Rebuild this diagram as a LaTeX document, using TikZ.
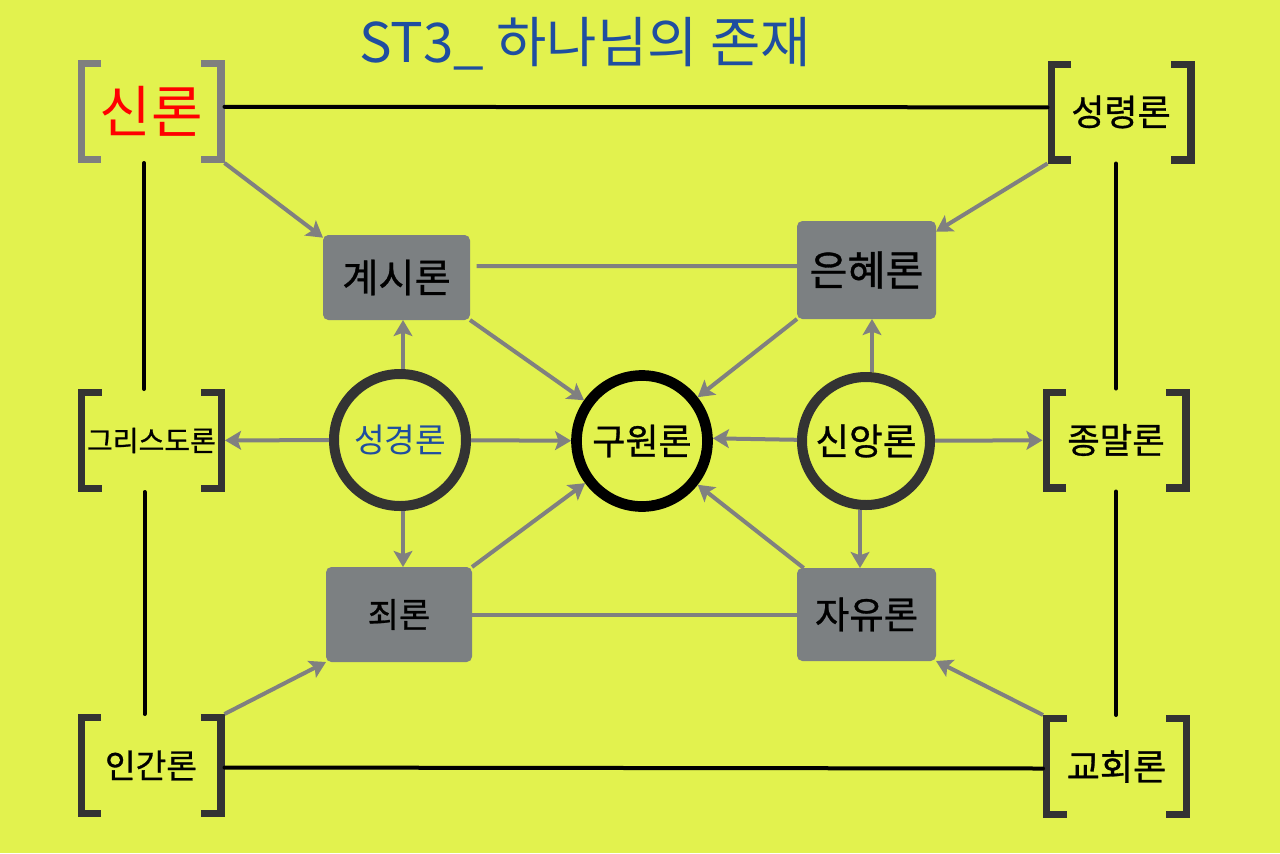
\documentclass[tikz,border=0pt]{standalone}
\usepackage{fontspec}
\setmainfont{Noto Sans CJK KR}
\newfontfamily\medfont{Noto Sans CJK KR}[FakeBold=0.8]
\usetikzlibrary{arrows.meta}
\definecolor{bgc}{RGB}{226,242,78}
\definecolor{boxgray}{RGB}{124,128,130}
\definecolor{arrgray}{RGB}{128,128,128}
\definecolor{darkbr}{RGB}{51,51,51}
\definecolor{ltbr}{RGB}{127,127,127}
\definecolor{titleblue}{RGB}{31,78,160}
\newcommand\fs[1]{\fontsize{#1}{#1}\selectfont}
\newcommand\brk[2]{%
  \draw[brkline,#2] ([shift={(17.75pt,-2.75pt)}]#1.north west) -| ([shift={(2.75pt,2.75pt)}]#1.south west) -- ++(15pt,0);
  \draw[brkline,#2] ([shift={(-17.75pt,-2.75pt)}]#1.north east) -| ([shift={(-2.75pt,2.75pt)}]#1.south east) -- ++(-15pt,0);
}
\tikzset{
  brkline/.style={line width=5.5pt},
  brnode/.style={inner sep=0pt, outer sep=0pt, minimum width=110.25pt, minimum height=77.25pt, text=black, font=\medfont},
  gbox/.style={fill=boxgray, rounded corners=4pt, inner sep=0pt, outer sep=0pt, text=black, font=\medfont},
  ring/.style={circle, inner sep=0pt, line width=7.5pt, font=\medfont},
  arr/.style={draw=arrgray, line width=3pt, -{Stealth[length=12pt,width=14pt,inset=2.5pt]}},
  plain/.style={draw=arrgray, line width=3pt},
  blk/.style={draw=black, line width=3pt, line cap=round},
}
\begin{document}
\begin{tikzpicture}[x=0.75pt,y=-0.75pt]
\fill[bgc] (0,0) rectangle (1280,853);
\useasboundingbox (0,0) rectangle (1280,853);

% title
\node[text=titleblue, inner sep=0pt] (title) at (585,44) {\fs{41pt}ST3\_ 하나님의 존재};

% bracket nodes
\node[brnode] (sinron) at (151,111.5) {\fs{42pt}\textcolor{red}{\normalfont\fs{42pt}신론}};
\node[brnode] (seongryeong) at (1121,112) {\fs{27pt}성령론};
\node[brnode] (christo) at (151.5,440.5) {\fs{21pt}그리스도론};
\node[brnode] (jongmal) at (1116,440) {\fs{26.5pt}종말론};
\node[brnode] (ingan) at (151,765.5) {\fs{25pt}인간론};
\node[brnode] (gyohoe) at (1116.5,766.5) {\fs{27pt}교회론};
\brk{sinron}{ltbr}
\brk{seongryeong}{darkbr}
\brk{christo}{darkbr}
\brk{jongmal}{darkbr}
\brk{ingan}{darkbr}
\brk{gyohoe}{darkbr}

% gray boxes
\node[gbox, minimum width=110.25pt, minimum height=63.75pt] (gyesi) at (396.5,277.5) {\fs{29.5pt}계시론};
\node[gbox, minimum width=104.25pt, minimum height=73.5pt] (eunhye) at (866.5,270) {\fs{31pt}은혜론};
\node[gbox, minimum width=109.5pt, minimum height=71.25pt] (joe) at (399,614.5) {\fs{25.5pt}죄론};
\node[gbox, minimum width=104.25pt, minimum height=69.75pt] (jayu) at (866.5,614.5) {\fs{28pt}자유론};

% circles
\node[ring, draw=darkbr, minimum size=99pt] (seonggyeong) at (400,440) {\textcolor{titleblue}{\normalfont\fs{25pt}성경론}};
\node[ring, draw=black, minimum size=98.25pt, line width=8pt] (guwon) at (642,441) {\fs{27pt}구원론};
\node[ring, draw=darkbr, minimum size=96pt] (sinang) at (866,441) {\fs{27.5pt}신앙론};

% black frame lines
\draw[blk] ([yshift=3.5pt]sinron.east) -- ([yshift=3.5pt]seongryeong.west);
\draw[blk] ([yshift=-1.5pt]ingan.east) -- ([yshift=-1.5pt]gyohoe.west);
\draw[blk] ([xshift=-5.25pt]sinron.south) -- ([xshift=-5.25pt]sinron.south |- christo.north);
\draw[blk] ([xshift=-5.25pt]christo.south) -- ([xshift=-5.25pt]christo.south |- ingan.north);
\draw[blk] (seongryeong.south -| jongmal.north) -- (jongmal.north);
\draw[blk] (jongmal.south) -- (jongmal.south |- gyohoe.north);

% plain gray lines
\draw[plain] ([shift={(5pt,8.6pt)}]gyesi.east) -- ([yshift=3pt]eunhye.west);
\draw[plain] (joe.east) -- (jayu.west);

% arrows
\draw[arr] (sinron.south east) -- ([yshift=-2pt]gyesi.north west);
\draw[arr] (seongryeong.south west) -- ([yshift=-8pt]eunhye.north east);
\draw[arr] (gyesi.south east) -- (guwon);
\draw[arr] (eunhye.south west) -- (guwon);
\draw[arr] (joe.north east) -- (guwon);
\draw[arr] ([xshift=5pt]jayu.north west) -- (guwon);
\draw[arr] ([xshift=2.25pt]seonggyeong.north) -- ([xshift=2.25pt]seonggyeong.north |- gyesi.south);
\draw[arr] ([xshift=2.25pt]seonggyeong.south) -- ([xshift=2.25pt]seonggyeong.south |- joe.north);
\draw[arr] (seonggyeong) -- (christo);
\draw[arr] (seonggyeong) -- (guwon);
\draw[arr] (sinang) -- ([yshift=2pt]guwon.east);
\draw[arr] ([xshift=4.5pt]sinang.north) -- ([xshift=4.5pt]sinang.north |- eunhye.south);
\draw[arr] ([xshift=-4.5pt]sinang.south) -- ([xshift=-4.5pt]sinang.south |- jayu.north);
\draw[arr] (sinang) -- (jongmal);
\draw[arr] (ingan.north east) -- (joe.south west);
\draw[arr] (gyohoe.north west) -- (jayu.south east);
\end{tikzpicture}
\end{document}
